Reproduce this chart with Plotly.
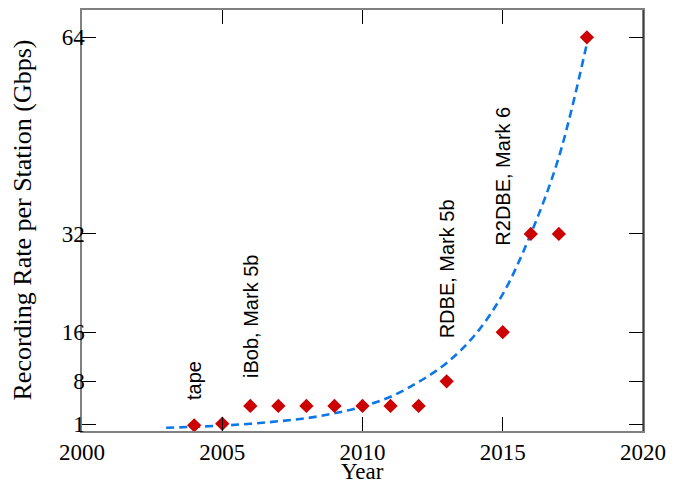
import plotly.graph_objects as go

years = [2004, 2005, 2006, 2007, 2008, 2009, 2010, 2011, 2012, 2013, 2015, 2016, 2017, 2018]
rates = [0.85, 1.1, 4, 4, 4, 4, 4, 4, 4, 8, 16, 32, 32, 64]

# Dashed trend curve, values at each year
fit_years = [2003, 2004, 2005, 2006, 2007, 2008, 2009, 2010, 2011, 2012, 2013, 2014, 2015, 2016, 2017, 2018]
fit_rates = [0.45, 0.6, 0.8, 1.1, 1.5, 2.0, 2.8, 3.9, 5.5, 7.9, 11.0, 15.5, 22.2, 32.0, 44.5, 63.0]

# Backend labels
label_years = [2004, 2006, 2013, 2015]
label_base = [4.6, 8.2, 14.7, 29.8]
label_texts = ["tape", "iBob, Mark 5b", "RDBE, Mark 5b", "R2DBE, Mark 6"]

x_ticks = [2000, 2005, 2010, 2015, 2020]
y_ticks = [1, 8, 16, 32, 64]

x_title = "Year"
y_title = "Recording Rate per Station (Gbps)"

serif = "Liberation Serif"
sans = "Liberation Sans"

# page body has an 8px margin: size the figure so the plot area lands where the reference has it
W, H = 677, 475
ML, MR, MT, MB = 74, 42, 2, 52
PW, PH = W - ML - MR, H - MT - MB

fig = go.Figure()
fig.add_trace(go.Scatter(
    x=fit_years, y=fit_rates, mode="lines",
    line=dict(color="#0C77EA", width=2.6, dash="8px,5px", shape="spline", smoothing=1.0),
    hoverinfo="skip", showlegend=False,
))
fig.add_trace(go.Scatter(
    x=years, y=rates, mode="markers",
    marker=dict(symbol="diamond", size=11, color="#CC0000", line=dict(width=0)),
    showlegend=False,
))

for xv, yv, t in zip(label_years, label_base, label_texts):
    fig.add_annotation(
        x=xv, y=yv, text=t, textangle=-90, showarrow=False,
        xanchor="center", yanchor="bottom",
        font=dict(family=sans, size=20, color="black"),
    )

# axis titles
fig.add_annotation(
    xref="paper", yref="paper", x=-60 / PW, y=0.5, text=y_title, textangle=-90,
    showarrow=False, xanchor="center", yanchor="middle",
    font=dict(family=serif, size=26, color="black"),
)
fig.add_annotation(
    xref="paper", yref="paper", x=0.5, y=-40 / PH, text=x_title,
    showarrow=False, xanchor="center", yanchor="middle", borderpad=0,
    font=dict(family=serif, size=23, color="black"),
)

# black right edge of the frame
fig.add_shape(type="line", xref="paper", yref="paper", x0=1, x1=1, y0=0, y1=1,
              line=dict(color="black", width=1))

fig.update_layout(
    width=W, height=H,
    margin=dict(l=ML, r=MR, t=MT, b=MB),
    paper_bgcolor="white", plot_bgcolor="white",
    font=dict(family=serif, size=23, color="black"),
    xaxis=dict(
        range=[2000, 2020], tickvals=x_ticks, ticktext=[str(v) for v in x_ticks],
        ticks="inside", ticklen=14, tickcolor="black", tickwidth=1,
        showline=True, linecolor="#808080", linewidth=1.5, mirror="ticks",
        showgrid=False, zeroline=False, automargin=False,
        tickfont=dict(family=serif, size=23),
        ticklabelstandoff=0,
    ),
    yaxis=dict(
        range=[-0.08, 68.45], tickvals=y_ticks, ticktext=[str(v) for v in y_ticks],
        ticks="inside", ticklen=14, tickcolor="black", tickwidth=1,
        showline=True, linecolor="#808080", linewidth=1.5, mirror="ticks",
        showgrid=False, zeroline=False, automargin=False,
        tickfont=dict(family=serif, size=23),
        ticklabelstandoff=-9,
    ),
)

fig.write_html("out.html")
